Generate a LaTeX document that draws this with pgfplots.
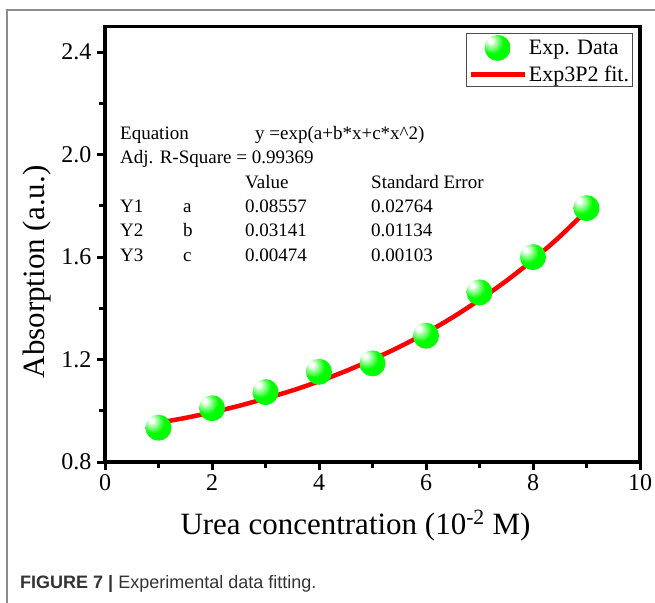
\documentclass[border=0pt]{standalone}
\usepackage{pgfplots}
\pgfplotsset{compat=1.18}
\usepackage{fontspec}
\setmainfont{Liberation Serif}
\newfontfamily\capfont{Liberation Sans}

\pgfdeclareradialshading{greenball}{\pgfpoint{-15bp}{15bp}}{color(0bp)=(white); color(4bp)=(white); color(12bp)=(green!45!white); color(22bp)=(green); color(80bp)=(green)}
\pgfdeclareplotmark{gball}{\begin{pgfscope}\pgfpathcircle{\pgfpointorigin}{\pgfplotmarksize}\pgfshadepath{greenball}{0}\pgfusepath{discard}\end{pgfscope}}
\pgfplotsset{
  ballleg/.style={legend image code/.code={\draw[mark repeat=2,mark phase=2,##1] plot coordinates {(0pt,0pt)(27pt,0pt)(54pt,0pt)};}},
  lineleg/.style={legend image code/.code={\draw[##1] (0pt,0pt) -- (54pt,0pt);}},
}

\begin{document}
\begin{tikzpicture}[x=1pt,y=1pt]
\useasboundingbox (0,0) rectangle (655,602);
\draw[black!45, line width=1.5pt] (7,-5) -- (7,592) -- (660,592);
\begin{axis}[
  at={(105pt,140pt)}, anchor=south west,
  width=535pt, height=435.5pt, scale only axis,
  separate axis lines,
  axis line style={line width=3.5pt, line cap=rect},
  xmin=0, xmax=10, ymin=0.8, ymax=2.5,
  xtick={0,2,4,6,8,10}, minor x tick num=1,
  ytick={0.8,1.2,1.6,2.0,2.4}, minor y tick num=1,
  xtick pos=left, ytick pos=left,
  tick align=outside,
  major tick length=8pt, minor tick length=6pt,
  major tick style={black, line width=3pt},
  minor tick style={black, line width=3pt},
  /pgf/number format/assume math mode=true,
  ticklabel style={font=\fontsize{24}{24}\selectfont},
  yticklabel style={xshift=-2pt, /pgf/number format/.cd, fixed, fixed zerofill, precision=1},
  xticklabel style={yshift=-1pt},
  legend style={at={(1,1)}, anchor=north east, xshift=-7pt, yshift=-6.5pt,
    draw=black!70, line width=0.8pt, font=\fontsize{22}{26}\selectfont,
    inner sep=1.5pt, row sep=3pt, cells={anchor=west}},
]
\addplot[only marks, mark=gball, mark size=13pt, ballleg]
  coordinates {(1,0.934) (2,1.010) (3,1.073) (4,1.152) (5,1.185) (6,1.293) (7,1.462) (8,1.600) (9,1.791)};
\addlegendentry{Exp. Data}
\addplot[red, line width=4.5pt, smooth, no marks, lineleg]
  coordinates {(1,0.953) (1.5,0.972) (2,0.994) (2.5,1.019) (3,1.048) (3.5,1.079) (4,1.115) (4.5,1.155) (5,1.200) (5.5,1.249) (6,1.304) (6.5,1.365) (7,1.433) (7.5,1.507) (8,1.589) (8.5,1.680) (9,1.781)};
\addlegendentry{Exp3P2 fit.}
\end{axis}
\draw[black, line width=3.5pt, line join=miter] (105,140) rectangle (640,575.5);
\node[anchor=base, font=\fontsize{31}{31}\selectfont] at (355.5,68) {Urea concentration (10\textsuperscript{-2} M)};
\node[rotate=90, anchor=base, font=\fontsize{31}{31}\selectfont] at (44,330) {Absorption (a.u.)};
\begin{scope}[every node/.style={anchor=base west, inner sep=0pt, font=\fontsize{19}{19}\selectfont}]
\node at (120,462) {Equation};
\node at (255,462) {y =exp(a+b*x+c*x\^{}2)};
\node at (120,438) {Adj. R-Square = 0.99369};
\node at (245,413) {Value};
\node at (371,413) {Standard Error};
\node at (120,389) {Y1}; \node at (183,389) {a}; \node at (245,389) {0.08557}; \node at (371,389) {0.02764};
\node at (120,365) {Y2}; \node at (183,365) {b}; \node at (245,365) {0.03141}; \node at (371,365) {0.01134};
\node at (120,340) {Y3}; \node at (183,340) {c}; \node at (245,340) {0.00474}; \node at (371,340) {0.00103};
\end{scope}
\node[anchor=base west, inner sep=0pt, text=black!80, font=\capfont\fontsize{18}{18}\selectfont] at (20,14) {\textbf{FIGURE 7 |} Experimental data fitting.};
\end{tikzpicture}
\end{document}
